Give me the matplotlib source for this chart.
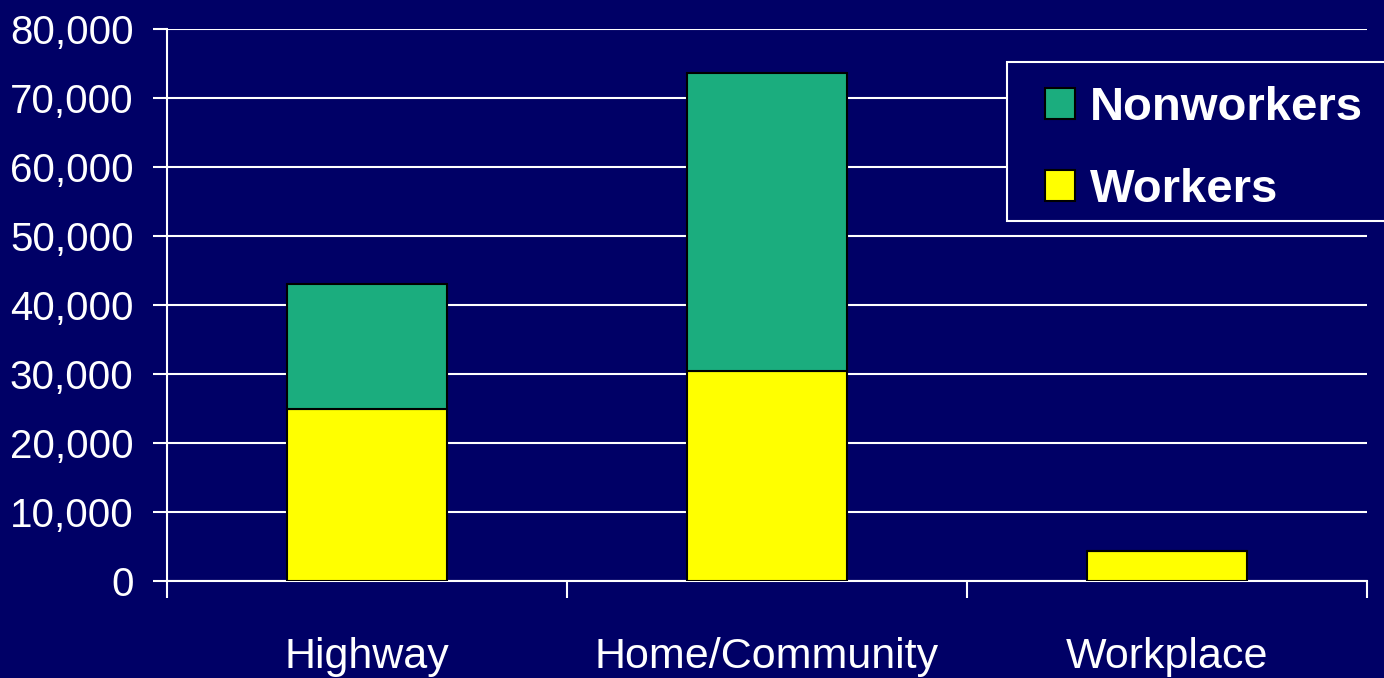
import matplotlib
matplotlib.use("Agg")
import matplotlib.pyplot as plt
from matplotlib.patches import Rectangle
import numpy as np

categories = ["Highway", "Home/Community", "Workplace"]
workers = [25000, 30400, 4300]
nonworkers = [18000, 43200, 0]
yticks = [0, 10000, 20000, 30000, 40000, 50000, 60000, 70000, 80000]

BG = "#000066"
GREEN = "#1bad7e"
YELLOW = "#ffff00"
FONT = "Liberation Sans"

W, H = 1384, 678
fig = plt.figure(figsize=(W / 100, H / 100), dpi=100, facecolor=BG)
ax = fig.add_axes([167 / W, 97 / H, 1200 / W, 552 / H], facecolor=BG)

x = np.arange(len(categories))
ax.bar(x, workers, width=0.4, color=YELLOW, edgecolor="black", linewidth=1.5, label="Workers", zorder=3)
ax.bar(x, nonworkers, width=0.4, bottom=workers, color=GREEN, edgecolor="black", linewidth=1.5,
       label="Nonworkers", zorder=3)

ax.set_xlim(-0.5, 2.5)
ax.set_ylim(0, 80000)
ax.set_yticks(yticks)
ax.set_yticklabels([f"{v:,}" for v in yticks], fontfamily=FONT, fontsize=29, color="white")
ax.yaxis.grid(True, color="white", linewidth=1.5, zorder=0)
ax.tick_params(axis="y", length=10, width=1.5, color="white", pad=14)

ax.set_xticks([-0.5, 0.5, 1.5, 2.5])
ax.set_xticklabels([])
ax.set_xticks(x, minor=True)
ax.set_xticklabels(categories, minor=True, fontfamily=FONT, fontsize=31, color="white")
ax.tick_params(axis="x", which="major", length=12, width=1.5, color="white", direction="out")
ax.tick_params(axis="x", which="minor", length=0, pad=40)

for s in ["top", "right"]:
    ax.spines[s].set_visible(False)
for s in ["left", "bottom"]:
    ax.spines[s].set_color("white")
    ax.spines[s].set_linewidth(1.5)
ax.spines["left"].set_bounds(0, 80000)

# legend frame (extends past the right edge, as in the reference)
fig.patches.append(Rectangle((1007 / W, 1 - 221 / H), 420 / W, 159 / H,
                             transform=fig.transFigure, facecolor=BG, edgecolor="white",
                             linewidth=1.5, zorder=5))

handles, labels = ax.get_legend_handles_labels()
leg = fig.legend(handles[::-1], labels[::-1], loc="upper left",
                 bbox_to_anchor=(1045 / W, 1 - 86 / H),
                 prop={"family": FONT, "weight": "bold", "size": 34},
                 frameon=False,
                 handlelength=0.64, handleheight=0.64, handletextpad=0.32,
                 labelspacing=0.8, borderpad=0, borderaxespad=0)
leg.set_zorder(6)
for t in leg.get_texts():
    t.set_color("white")

fig.savefig("out.png", dpi=100, facecolor=BG)
